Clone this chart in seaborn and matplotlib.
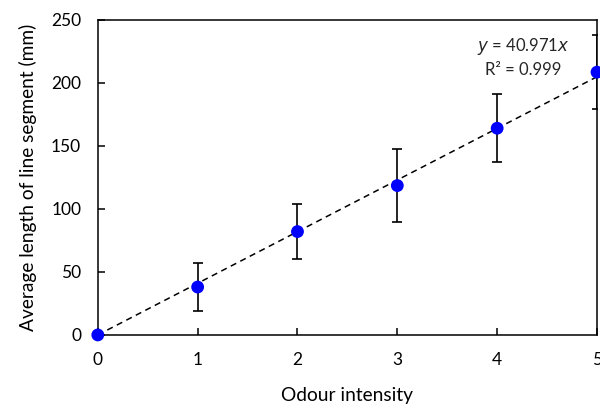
import matplotlib
matplotlib.use("Agg")
import matplotlib.pyplot as plt
import seaborn as sns
import numpy as np
import pandas as pd

# values
intensity = [0, 1, 2, 3, 4, 5]
avg_length = [0, 38, 82, 118.5, 164, 208.5]
err = [0, 19, 21.5, 29, 27, 29.5]
slope = 40.971
r2 = 0.999
x_ticks = [0, 1, 2, 3, 4, 5]
y_ticks = [0, 50, 100, 150, 200, 250]

sns.set_theme(style="ticks")
plt.rcParams['font.family'] = ['Lato', 'DejaVu Sans']

df = pd.DataFrame({"x": intensity, "y": avg_length, "e": err})
fit = pd.DataFrame({"x": [0, 5]})
fit["y"] = slope * fit["x"]

fig = plt.figure(figsize=(6, 4.05), dpi=100)
ax = fig.add_axes([0.163, 0.173, 0.832, 0.778])

sns.lineplot(data=fit, x="x", y="y", ax=ax, color="black", lw=1.1,
             linestyle=(0, (4, 3)), zorder=2)
eb = df[df["e"] > 0]
ax.errorbar(eb["x"], eb["y"], yerr=eb["e"], fmt="none", ecolor="black",
            elinewidth=1.2, capsize=3.5, capthick=1.2, zorder=1)
sns.scatterplot(data=df, x="x", y="y", ax=ax, color="#0000ff", s=85,
                edgecolor="none", zorder=3, clip_on=False)

ax.set_xlim(0, 5)
ax.set_ylim(0, 250)
ax.set_xticks(x_ticks)
ax.set_yticks(y_ticks)
ax.tick_params(direction="in", length=5, width=1.1, labelsize=12.5, color="black",
               labelcolor="black")
ax.tick_params(axis="x", pad=12)
ax.tick_params(axis="y", pad=12)
for s in ax.spines.values():
    s.set_linewidth(1.1)
    s.set_color("black")

ax.set_xlabel("Odour intensity", fontsize=13.8, labelpad=14, color="black")
ax.set_ylabel("Average length of line segment (mm)", fontsize=13.8, labelpad=10,
              color="black")

ax.text(0.852, 0.915, f"$\\it{{y}}$ = {slope}$\\it{{x}}$", transform=ax.transAxes,
        ha="center", va="center", fontsize=12)
ax.text(0.852, 0.842, f"R² = {r2}", transform=ax.transAxes,
        ha="center", va="center", fontsize=12)

fig.savefig("out.png", dpi=100)
